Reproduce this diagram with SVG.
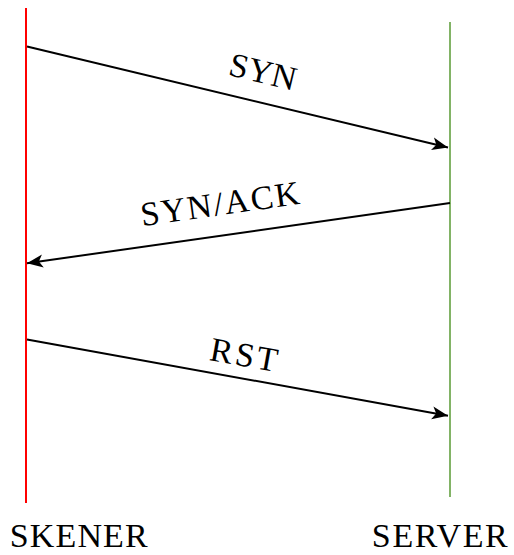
<svg xmlns="http://www.w3.org/2000/svg" width="514" height="555" viewBox="0 0 514 555">
<style>
.msg{stroke:#000;stroke-width:2;fill:none}
.t{font-family:'Liberation Serif',serif;font-size:34px;fill:#000;text-anchor:middle}
</style>
<defs>
<marker id="ah" markerUnits="userSpaceOnUse" markerWidth="18" markerHeight="14" refX="16" refY="7" orient="auto">
<path d="M0,0.5 L16,7 L0,13.5 L4,7 z" fill="#000"/>
</marker>
</defs>
<rect width="514" height="555" fill="#fff"/>
<g id="skener">
<line x1="26" y1="8" x2="26" y2="503" stroke="#ff0000" stroke-width="2"/>
<text class="t" x="78.7" y="547" textLength="138" lengthAdjust="spacing">SKENER</text>
</g>
<g id="server">
<line x1="450" y1="22" x2="450" y2="497" stroke="#82b366" stroke-width="2"/>
<text class="t" x="439.8" y="547" textLength="136" lengthAdjust="spacing">SERVER</text>
</g>
<g id="connectors">
<line class="msg" x1="27" y1="46.5" x2="448" y2="147.5" marker-end="url(#ah)"/>
<line class="msg" x1="450" y1="203" x2="27" y2="263.3" marker-end="url(#ah)"/>
<line class="msg" x1="27" y1="339.5" x2="448" y2="415.7" marker-end="url(#ah)"/>
<text class="t" transform="translate(260.4,82.7) rotate(13.6)" textLength="68" lengthAdjust="spacing">SYN</text>
<text class="t" transform="translate(221.5,215) rotate(-8.07)" textLength="160" lengthAdjust="spacing">SYN/ACK</text>
<text class="t" transform="translate(242,366) rotate(10.2)" textLength="68" lengthAdjust="spacing">RST</text>
</g>
</svg>
